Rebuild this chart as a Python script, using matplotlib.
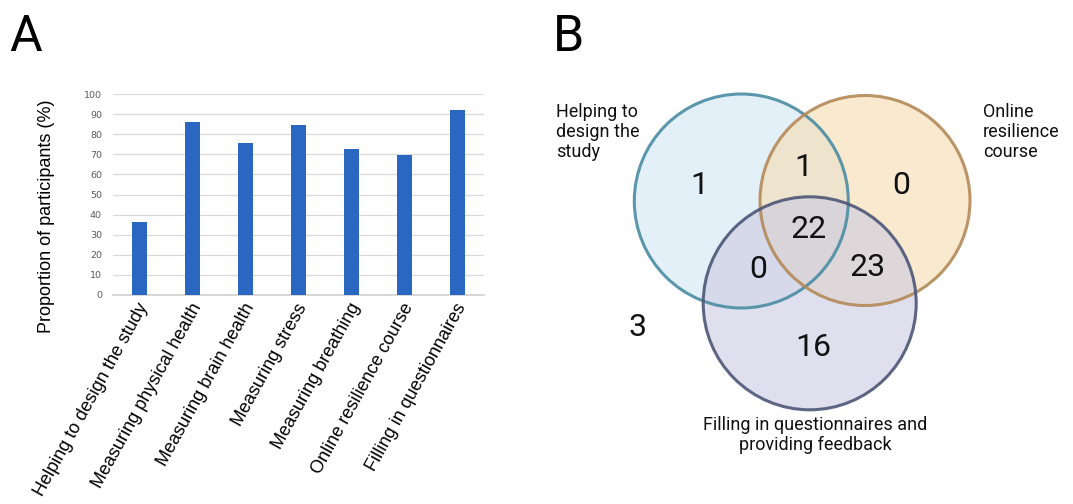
import matplotlib.pyplot as plt
import matplotlib.transforms as mtransforms
from matplotlib.patches import Circle

# panel A data
categories = ["Helping to design the study", "Measuring physical health",
              "Measuring brain health", "Measuring stress",
              "Measuring breathing", "Online resilience course",
              "Filling in questionnaires"]
proportions = [36.4, 86.4, 75.8, 84.8, 72.7, 69.7, 92.4]

# panel B data (region counts)
set_names = ["Helping to\ndesign the\nstudy", "Online\nresilience\ncourse",
             "Filling in questionnaires and\nproviding feedback"]
only_design = 1
only_online = 0
design_online = 1
all_three = 22
design_fill = 0
online_fill = 23
only_fill = 16
none_of_them = 3

W, H = 1073, 504
fig = plt.figure(figsize=(W / 100, H / 100), dpi=100)

# ---- panel A: bar chart
ax = fig.add_axes([113 / W, (H - 294.7) / H, 371 / W, 200.4 / H])
ax.bar(range(len(categories)), proportions, width=0.3, color="#2a67c0", zorder=3)
ax.set_xlim(-0.5, len(categories) - 0.5)
ax.set_ylim(0, 100)
ax.set_yticks(range(0, 101, 10))
ax.grid(axis="y", color="#d9d9d9", linewidth=0.9, zorder=0)
for s in ["top", "right", "left"]:
    ax.spines[s].set_visible(False)
ax.spines["bottom"].set_color("#d0d0d0")
ax.spines["bottom"].set_linewidth(1.2)
ax.tick_params(axis="both", length=0)
ax.tick_params(axis="y", labelsize=6.8, labelcolor="#595959", pad=8)
ax.set_xticks(range(len(categories)))
ax.set_xticklabels(categories, rotation=61, ha="right", va="center",
                   rotation_mode="anchor", fontsize=13, family="Liberation Sans")
ax.tick_params(axis="x", pad=7)
shift = mtransforms.ScaledTranslation(5 / 100, 0, fig.dpi_scale_trans)
for lbl in ax.get_xticklabels():
    lbl.set_transform(lbl.get_transform() + shift)
ax.set_ylabel("Proportion of participants (%)", fontsize=13, family="Liberation Sans")
ax.yaxis.set_label_coords(-0.156, 0.39)

# ---- panel B: venn diagram drawn in pixel space
vx = fig.add_axes([0, 0, 1, 1], zorder=-1)
vx.set_xlim(0, W)
vx.set_ylim(H, 0)
vx.axis("off")

circles = [
    ((741.3, 201.0), 107, "#d2e7f2", "#4a8ca3"),
    ((865.0, 200.5), 105, "#f5dbb0", "#b48a58"),
    ((809.7, 303.3), 106.5, "#cbcbe2", "#4c5677"),
]
for (cx, cy), r, fc, ec in circles:
    vx.add_patch(Circle((cx, cy), r, facecolor=fc, edgecolor="none", alpha=0.6))
for (cx, cy), r, fc, ec in circles:
    vx.add_patch(Circle((cx, cy), r, facecolor="none", edgecolor=ec, linewidth=2.2, alpha=0.9))

num_style = dict(fontsize=23, family="Roboto", ha="center", va="center", color="#111111")
vx.text(699, 186, str(only_design), **num_style)
vx.text(803, 168, str(design_online), **num_style)
vx.text(901, 185, str(only_online), **num_style)
vx.text(809, 230, str(all_three), **num_style)
vx.text(758, 270, str(design_fill), **num_style)
vx.text(868, 268, str(online_fill), **num_style)
vx.text(813, 347, str(only_fill), **num_style)
vx.text(638, 327, str(none_of_them), **num_style)

lab_style = dict(fontsize=13, family="Roboto", color="#111111", linespacing=1.15)
vx.text(556, 103, set_names[0], ha="left", va="top", **lab_style)
vx.text(983, 103, set_names[1], ha="left", va="top", **lab_style)
vx.text(815, 416, set_names[2], ha="center", va="top", **lab_style)

# panel letters
vx.text(9, 51, "A", fontsize=36, family="Roboto", va="baseline")
vx.text(553, 51, "B", fontsize=36, family="Roboto", va="baseline")

fig.savefig("out.png", dpi=100)
